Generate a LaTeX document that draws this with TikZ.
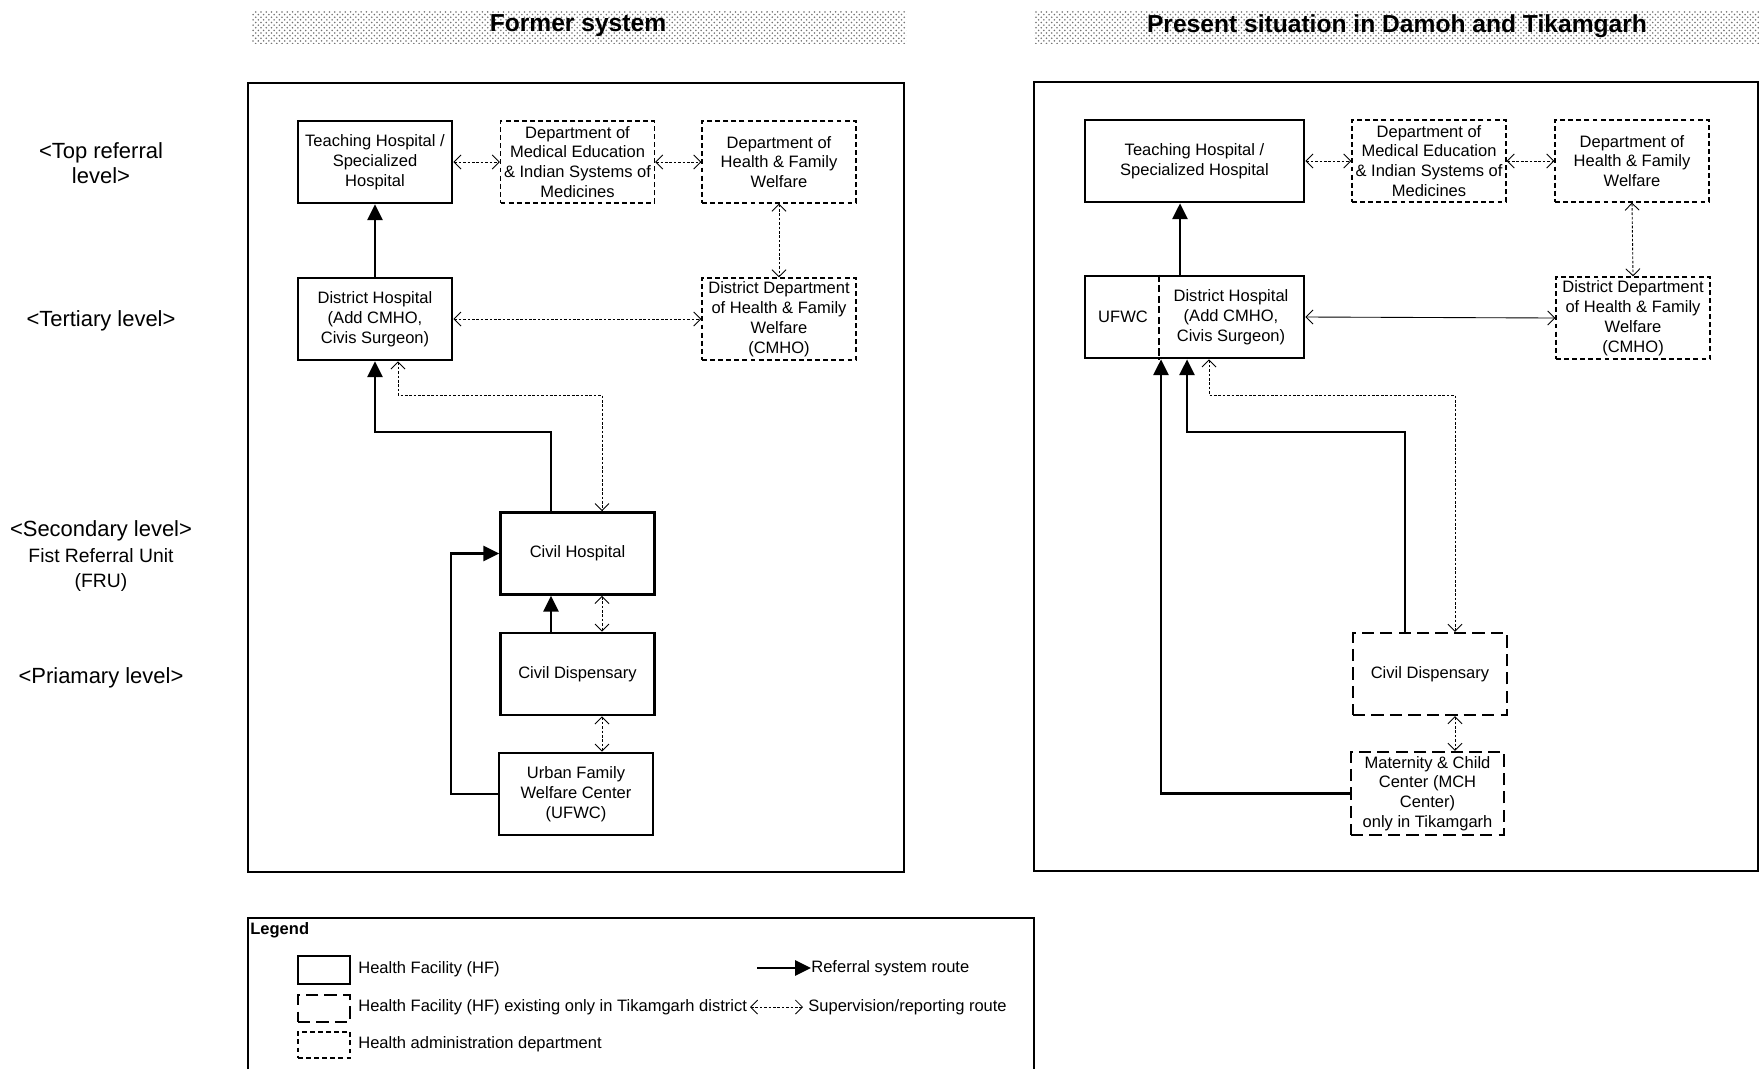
\documentclass[tikz,border=0pt]{standalone}
\usepackage{fontspec}
\setmainfont{Liberation Sans}
\usepackage{tikz}
\usetikzlibrary{
    arrows.meta,
    patterns
}

\newcommand{\boxfont}{\fontsize{9.4}{11.3}\selectfont}
\newcommand{\levelfont}{\fontsize{12.5}{14.2}\selectfont}
\newcommand{\titlefont}{\fontsize{14}{16}\selectfont\bfseries}

\tikzset{
    facility/.style={draw, line width=1.5pt, minimum width=30.8mm, minimum height=16.4mm,
        align=center, font=\boxfont, inner sep=1pt},
    tikfac/.style={facility, line width=1.3pt, dash pattern=on 7pt off 3.5pt},
    admin/.style={facility, line width=0.7pt, dash pattern=on 2.8pt off 1.8pt},
    referral/.style={line width=1.5pt, -{Triangle[length=9pt,width=8.5pt]}},
    super/.style={line width=0.5pt, dash pattern=on 1.5pt off 1pt,
        {Straight Barb[length=4pt,width=8pt]}-{Straight Barb[length=4pt,width=8pt]}},
    level/.style={align=center, font=\levelfont},
    keytext/.style={anchor=west, font=\boxfont, inner sep=0pt}
}

\begin{document}
\begin{tikzpicture}[x=0.2mm, y=-0.2mm]

\useasboundingbox (0,0) rectangle (1759,1069);

% Title bars
\fill[pattern=crosshatch dots, pattern color=black!55] (252,11) rectangle (906,43);
\fill[pattern=crosshatch dots, pattern color=black!55] (1034,11) rectangle (1759,43);
\node[font=\titlefont] (ltitle) at (578,26) {Former system};
\node[font=\titlefont] (rtitle) at (1397,26) {Present situation in Damoh and Tikamgarh};

% Frames
\draw[line width=0.6pt] (248,83) rectangle (904,872);
\draw[line width=0.6pt] (1034,82) rectangle (1758,871);

% Levels
\node[level] (ltop) at (101,163) {<Top referral\\level>};
\node[level] (tert) at (101,321) {<Tertiary level>};
\node[level] (sec) at (101,531) {<Secondary level>};
\node[align=center, font=\fontsize{11}{13.7}\selectfont] (fru) at (101,570) {Fist Referral Unit\\(FRU)};
\node[level] (prim) at (101,678) {<Priamary level>};

% Former system
\node[facility] (lth) at (375,162) {Teaching Hospital /\\Specialized\\Hospital};
\node[admin] (lme) at (577.5,162) {Department of\\Medical Education\\\& Indian Systems of\\Medicines};
\node[admin] (lhf) at (779,162) {Department of\\Health \& Family\\Welfare};
\node[facility] (ldh) at (375,319) {District Hospital\\(Add CMHO,\\Civis Surgeon)};
\node[admin] (ldd) at (779,319) {District Department\\of Health \& Family\\Welfare\\(CMHO)};
\node[facility] (lch) at (577.5,553.5) {Civil Hospital};
\node[facility] (lcd) at (577.5,674) {Civil Dispensary};
\node[facility] (luf) at (576,794) {Urban Family\\Welfare Center\\(UFWC)};

\coordinate (lk1) at (551,432);
\coordinate (lk2) at (451,553.5);
\coordinate (ls1) at (398,395);
\coordinate (ls2) at (602,395);

\draw[super] (lth.east) -- (lme.west);
\draw[super] (lme.east) -- (lhf.west);
\draw[super] (lhf.south) -- (ldd.north);
\draw[super] (ldh.east) -- (ldd.west);
\draw[referral] (ldh.north) -- (lth.south);
\draw[referral] (lch.north -| lk1) -- (lk1) -| (ldh.south);
\draw[super] (ldh.south -| ls1) -- (ls1) -- (ls2) -- (lch.north -| ls2);
\draw[referral] (lcd.north -| lk1) -- (lch.south -| lk1);
\draw[super] (lch.south -| ls2) -- (lcd.north -| ls2);
\draw[super] (lcd.south -| ls2) -- (luf.north -| ls2);
\draw[referral] (luf.west) -| (lk2) -- (lch.west);

% Present situation
\node[facility, minimum width=43.8mm] (rth) at (1194.5,161) {Teaching Hospital /\\Specialized Hospital};
\node[admin] (rme) at (1429,161) {Department of\\Medical Education\\\& Indian Systems of\\Medicines};
\node[admin] (rhf) at (1632,161) {Department of\\Health \& Family\\Welfare};
\node[facility, minimum width=43.8mm] (rdh) at (1194.5,317) {};
\node[font=\boxfont] (rufwc) at (1123,317) {UFWC};
\node[font=\boxfont, align=center] (rdhtxt) at (1231,317) {District Hospital\\(Add CMHO,\\Civis Surgeon)};
\node[admin] (rdd) at (1633,318) {District Department\\of Health \& Family\\Welfare\\(CMHO)};
\node[tikfac] (rcd) at (1430,674) {Civil Dispensary};
\node[tikfac, minimum width=30.6mm, minimum height=16.6mm] (rmch) at (1427.5,793.5) {Maternity \& Child\\Center (MCH\\Center)\\only in Tikamgarh};

\coordinate (rdiv) at (1159,317);
\coordinate (rc0) at (1180,240);
\coordinate (rk0) at (1161,600);
\coordinate (rk1) at (1405,432);
\coordinate (rk2) at (1187,432);
\coordinate (rs1) at (1209,395);
\coordinate (rs2) at (1455,395);

\draw[line width=0.8pt, dash pattern=on 4pt off 2pt] (rdh.north -| rdiv) -- (rdh.south -| rdiv);
\draw[super] (rth.east) -- (rme.west);
\draw[super] (rme.east) -- (rhf.west);
\draw[super] (rhf.south) -- (rdd.north);
\draw[super, solid] (rdh.east) -- (rdd.west);
\draw[referral] (rdh.north -| rc0) -- (rth.south -| rc0);
\draw[referral] (rmch.west) -| (rdh.south -| rk0);
\draw[referral] (rcd.north -| rk1) -- (rk1) -- (rk2) -- (rdh.south -| rk2);
\draw[super] (rdh.south -| rs1) -- (rs1) -- (rs2) -- (rcd.north -| rs2);
\draw[super] (rcd.south -| rs2) -- (rmch.north -| rs2);

% Legend
\draw[line width=0.6pt] (248,1069) |- (1034,918) -- (1034,1069);
\node[keytext, font=\boxfont\bfseries] (lgd) at (250,930) {Legend};
\node[facility, minimum width=10.4mm, minimum height=5.6mm] (key1) at (324,970) {};
\node[tikfac, minimum width=10.4mm, minimum height=5.4mm] (key2) at (324,1008.5) {};
\node[admin, minimum width=10.4mm, minimum height=5.2mm] (key3) at (324,1045) {};
\node[keytext] (ktxt1) at (358,969) {Health Facility (HF)};
\node[keytext] (ktxt2) at (358,1007) {Health Facility (HF) existing only in Tikamgarh district};
\node[keytext] (ktxt3) at (358,1044) {Health administration department};
\node[keytext] (ktxt4) at (811,968) {Referral system route};
\node[keytext] (ktxt5) at (808,1007) {Supervision/reporting route};
\coordinate (ka1) at (757,968);
\coordinate (ka2) at (750,1007);
\draw[referral] (ka1) -- (ktxt4.west);
\draw[super] (ka2) -- ([xshift=-1mm]ktxt5.west);

\end{tikzpicture}
\end{document}
